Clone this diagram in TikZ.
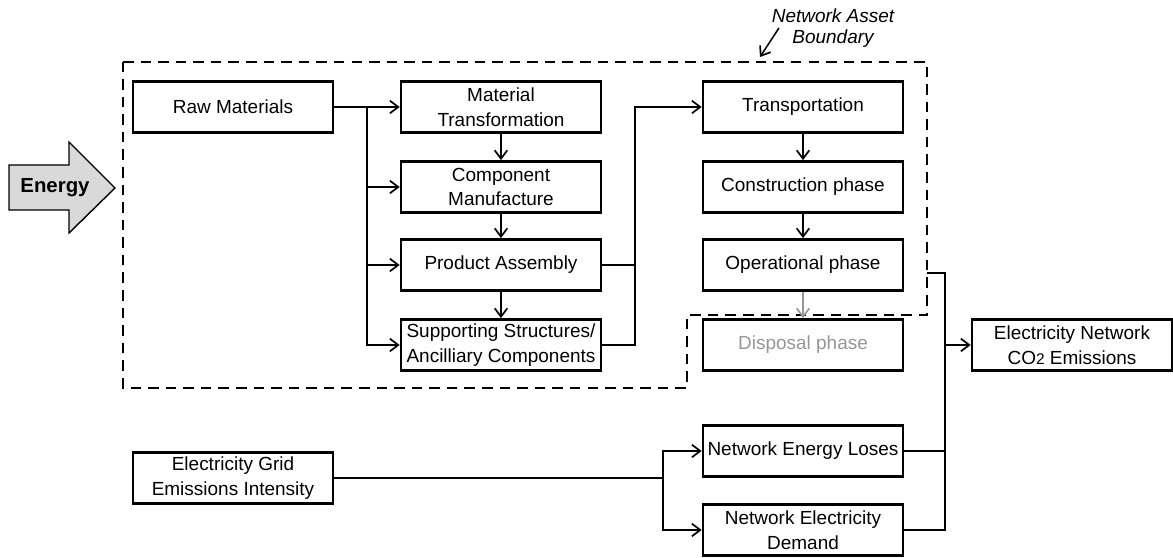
\documentclass[tikz,border=0pt]{standalone}
\usepackage{fontspec}
\setmainfont{Liberation Sans}
\usetikzlibrary{arrows.meta}
\definecolor{fade}{RGB}{150,150,150}
\definecolor{energyfill}{RGB}{217,217,217}

\begin{document}
\begin{tikzpicture}[x=0.025cm,y=-0.025cm,
  font=\fontsize{13.5}{17.5}\selectfont,
  >={Straight Barb[length=6pt,width=9pt,line width=1.2pt]},
  b/.style={draw,line width=1.8pt,align=center,inner sep=2pt,minimum width=5cm,minimum height=1.28cm},
  gb/.style={b,text=fade},
  ln/.style={line width=1.1pt},
  bnd/.style={line width=1.7pt,dash pattern=on 7.5pt off 5pt},
  lbl/.style={font=\fontsize{13.5}{14.5}\selectfont\itshape,align=center,inner sep=1pt}]
  \useasboundingbox (0,0) rectangle (1173,558);
  % energy input
  \draw[line width=1pt,fill=energyfill] (9,165) -- (69,165) -- (69,142) -- (115,188) -- (69,233) -- (69,210) -- (9,210) -- cycle;
  \node[font=\fontsize{14.5}{16}\selectfont\bfseries] (energy) at (55,188) {Energy};
  % asset boundary
  \draw[bnd] (123,62) -- (927,62) -- (927,315) -- (687,315) -- (687,388) -- (123,388) -- cycle;
  \node[lbl] (nab) at (833,28) {Network Asset\\Boundary};
  \coordinate (bnd) at (760,57);
  \draw[ln,->] ([xshift=2.2mm]nab.west) -- (bnd);
  % life cycle stages
  \node[b]  (raw)   at (233,107)  {Raw Materials};
  \node[b]  (mat)   at (501,107)  {Material\\Transformation};
  \node[b]  (comp)  at (501,187)  {Component\\Manufacture};
  \node[b]  (prod)  at (501,265)  {Product Assembly};
  \node[b]  (supp)  at (501,345)  {Supporting Structures/\\Ancilliary Components};
  \node[b]  (trans) at (803,107)  {Transportation};
  \node[b]  (cons)  at (803,187)  {Construction phase};
  \node[b]  (oper)  at (803,265)  {Operational phase};
  \node[gb] (disp)  at (803,345)  {Disposal phase};
  \node[b]  (co2)   at (1072,345) {Electricity Network\\CO{\fontsize{11}{13}\selectfont 2} Emissions};
  \node[b]  (loss)  at (803,451)  {Network Energy Loses};
  \node[b]  (dem)   at (803,530)  {Network Electricity\\Demand};
  \node[b]  (grid)  at (233,478)  {Electricity Grid\\Emissions Intensity};
  % junctions
  \coordinate (trk)   at (367,107);
  \coordinate (bus)   at (635,107);
  \coordinate (out)   at (927,273);
  \coordinate (col)   at (945,273);
  \coordinate (split) at (663,478);
  % connectors
  \draw[ln,->] (raw) -- (mat);
  \draw[ln,->] (trk) |- (comp);
  \draw[ln,->] (trk) |- (prod);
  \draw[ln,->] (trk) |- (supp);
  \draw[ln,->] (mat) -- (comp);
  \draw[ln,->] (comp) -- (prod);
  \draw[ln,->] (prod) -- (supp);
  \draw[ln] (prod) -- (prod -| bus);
  \draw[ln,->] (supp) -| (bus) -- (trans);
  \draw[ln,->] (trans) -- (cons);
  \draw[ln,->] (cons) -- (oper);
  \draw[ln,->,fade] (oper) -- (disp);
  \draw[ln] (out) -- (col) |- (dem);
  \draw[ln] (loss) -- (loss -| col);
  \draw[ln,->] (co2 -| col) -- (co2);
  \draw[ln] (grid) -- (split);
  \draw[ln,->] (split) |- (loss);
  \draw[ln,->] (split) |- (dem);
\end{tikzpicture}
\end{document}
